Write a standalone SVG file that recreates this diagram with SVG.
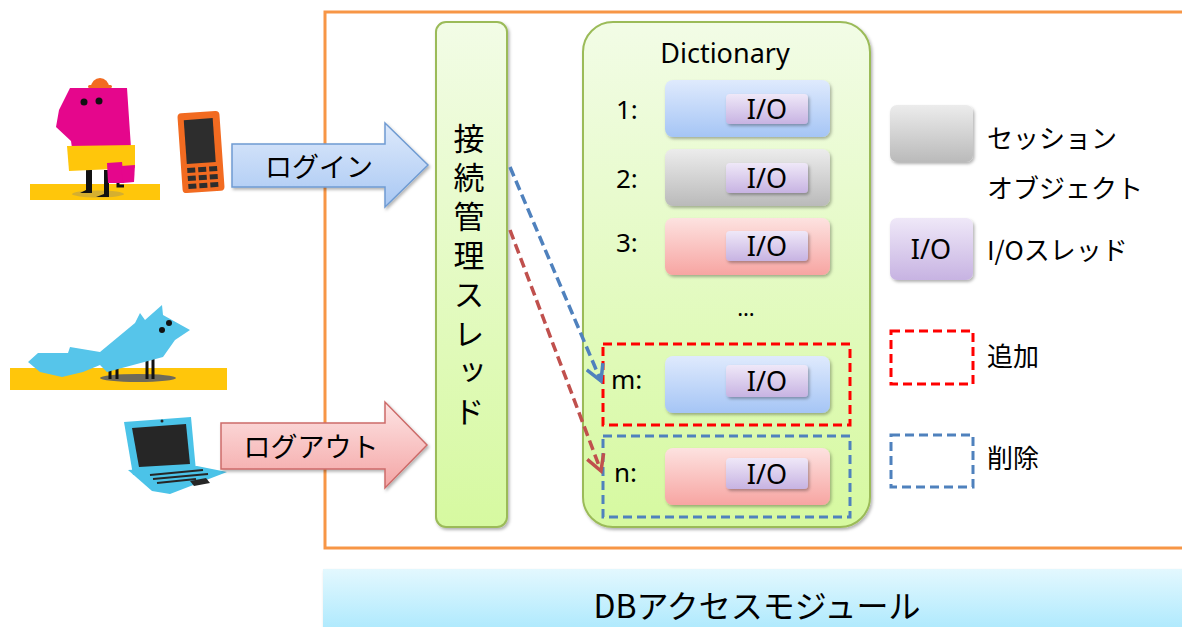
<svg xmlns="http://www.w3.org/2000/svg" width="1182" height="627" viewBox="0 0 1182 627">
  <defs>
    <linearGradient id="gBlue" x1="0" y1="0" x2="0" y2="1">
      <stop offset="0" stop-color="#dfeafd"/>
      <stop offset="1" stop-color="#a5c5f5"/>
    </linearGradient>
    <linearGradient id="gGray" x1="0" y1="0" x2="0" y2="1">
      <stop offset="0" stop-color="#ececec"/>
      <stop offset="1" stop-color="#bababa"/>
    </linearGradient>
    <linearGradient id="gPink" x1="0" y1="0" x2="0" y2="1">
      <stop offset="0" stop-color="#fde2e0"/>
      <stop offset="1" stop-color="#f7a5a2"/>
    </linearGradient>
    <linearGradient id="gIO" x1="0" y1="0" x2="0" y2="1">
      <stop offset="0" stop-color="#efe8f8"/>
      <stop offset="1" stop-color="#c7b3e2"/>
    </linearGradient>
    <linearGradient id="gGreen" x1="0" y1="0" x2="0" y2="1">
      <stop offset="0" stop-color="#f2fce6"/>
      <stop offset="1" stop-color="#d6f9a0"/>
    </linearGradient>
    <linearGradient id="gDB" x1="0" y1="0" x2="0" y2="1">
      <stop offset="0" stop-color="#e3f8fe"/>
      <stop offset="1" stop-color="#a6e7fd"/>
    </linearGradient>
    <linearGradient id="gLogin" x1="0" y1="0" x2="0" y2="1">
      <stop offset="0" stop-color="#dde9fb"/>
      <stop offset="1" stop-color="#a9c8f3"/>
    </linearGradient>
    <linearGradient id="gLogout" x1="0" y1="0" x2="0" y2="1">
      <stop offset="0" stop-color="#fde4e4"/>
      <stop offset="1" stop-color="#f4a5a5"/>
    </linearGradient>
    <filter id="shadow" x="-10%" y="-10%" width="125%" height="130%">
      <feDropShadow dx="1.5" dy="2" stdDeviation="1.5" flood-color="#000" flood-opacity="0.3"/>
    </filter>
    <marker id="headBlue" viewBox="0 0 12 12" refX="10" refY="6" markerWidth="6" markerHeight="6" orient="auto" markerUnits="strokeWidth">
      <path d="M1,1 L10,6 L1,11" fill="none" stroke="#4f81bd" stroke-width="2" stroke-linejoin="miter"/>
    </marker>
    <marker id="headRed" viewBox="0 0 12 12" refX="10" refY="6" markerWidth="6" markerHeight="6" orient="auto" markerUnits="strokeWidth">
      <path d="M1,1 L10,6 L1,11" fill="none" stroke="#c0504d" stroke-width="2" stroke-linejoin="miter"/>
    </marker>
    <style>
      .jp { font-family: "Noto Sans CJK JP", "Noto Sans", sans-serif; fill: #000; }
      .lat { font-family: "Noto Sans", "Noto Sans CJK JP", sans-serif; fill: #000; }
      .row { stroke: none; filter: url(#shadow); }
      .io { fill: url(#gIO); filter: url(#shadow); }
      .ioText { font-family: "Noto Sans", "Noto Sans CJK JP", sans-serif; font-size: 27px; text-anchor: middle; fill: #000; }
      .idx { font-family: "Noto Sans", "Noto Sans CJK JP", sans-serif; font-size: 26px; fill: #000; }
      .addBox { fill: none; stroke: #ff0000; stroke-width: 3; stroke-dasharray: 9 5; }
      .delBox { fill: none; stroke: #4f81bd; stroke-width: 3; stroke-dasharray: 9 5; }
      .legend { font-family: "Noto Sans CJK JP", "Noto Sans", sans-serif; font-size: 26px; fill: #000; }
      .vert { font-family: "Noto Sans CJK JP", sans-serif; font-size: 31px; fill: #000;
              writing-mode: vertical-rl; text-orientation: upright; letter-spacing: 8px; }
    </style>
  </defs>

  <rect width="1182" height="627" fill="#ffffff"/>

  <!-- system boundary -->
  <g id="system-frame">
    <rect x="325" y="12" width="900" height="536" fill="none" stroke="#f79646" stroke-width="3"/>
  </g>

  <!-- DB access module bar -->
  <g id="db-module">
    <rect x="323" y="569" width="880" height="70" fill="url(#gDB)" filter="url(#shadow)"/>
    <text class="jp" x="757" y="618" font-size="32" text-anchor="middle">DBアクセスモジュール</text>
  </g>

  <!-- mobile user -->
  <g id="user-mobile">
    <rect x="30" y="184" width="130" height="16" fill="#ffc60b"/>
    <ellipse cx="98" cy="194" rx="26" ry="3.5" fill="#b9a04a" opacity="0.6"/>
    <path d="M86,170 L86,190 L80,193 L92,193 L92,170 Z" fill="#111"/>
    <path d="M104,170 L104,194 L96,197 L109,197 L109,170 Z" fill="#111"/>
    <path d="M118,178 L118,186 L124,186" fill="none" stroke="#111" stroke-width="3"/>
    <polygon points="70,88 127,88 131,148 72,148 71,141 56,127 59,110" fill="#e5068c"/>
    <path d="M91,87 A9,9 0 0 1 109,87 Z" fill="#f26b21"/>
    <rect x="88" y="85" width="24" height="3" rx="1.5" fill="#f26b21"/>
    <circle cx="84" cy="102" r="3.5" fill="#111"/>
    <circle cx="99" cy="101" r="3.5" fill="#111"/>
    <polygon points="67,146 135,145 135,168 69,171" fill="#ffc60b"/>
    <polygon points="107,163 122,162 124,183 108,183" fill="#e5068c"/>
    <polygon points="121,166 135,165 134,182 123,183" fill="#e5068c"/>
    <!-- phone -->
    <g transform="rotate(-4 201 152)">
      <rect x="180" y="112" width="42" height="80" rx="4" fill="#f26b21"/>
      <rect x="186" y="119" width="29" height="44" fill="#2d2d2d"/>
      <g fill="#2d2d2d">
        <rect x="186" y="167" width="8" height="5"/><rect x="197" y="167" width="8" height="5"/><rect x="208" y="167" width="8" height="5"/>
        <rect x="186" y="175" width="8" height="5"/><rect x="197" y="175" width="8" height="5"/><rect x="208" y="175" width="8" height="5"/>
        <rect x="186" y="183" width="8" height="5"/><rect x="197" y="183" width="8" height="5"/><rect x="208" y="183" width="8" height="5"/>
      </g>
    </g>
  </g>

  <!-- fox -->
  <g id="user-fox">
    <rect x="10" y="368" width="217" height="22" fill="#ffc60b"/>
    <ellipse cx="138" cy="378" rx="38" ry="4" fill="#6f6a5a"/>
    <g stroke="#111" stroke-width="3">
      <line x1="110" y1="360" x2="110" y2="379"/>
      <line x1="117" y1="360" x2="117" y2="379"/>
      <line x1="147" y1="355" x2="147" y2="379"/>
      <line x1="153" y1="355" x2="153" y2="379"/>
    </g>
    <polygon points="28,362 38,353 68,353 70,347 100,352 135,323 140,313 145,320 162,305 163,315 190,330 175,340 163,357 107,372 100,365 83,372 62,377 40,372" fill="#56c5ea"/>
    <circle cx="162" cy="330" r="3" fill="#111"/>
    <circle cx="169" cy="323" r="3" fill="#111"/>
  </g>

  <!-- laptop -->
  <g id="user-laptop">
    <polygon points="124,422 191,417 196,471 133,475" fill="#4bc3e8"/>
    <polygon points="132,428 186,424 190,464 139,467" fill="#262626"/>
    <circle cx="162" cy="421" r="1.5" fill="#262626"/>
    <polygon points="128,470 197,466 227,472 170,494 152,491" fill="#4bc3e8"/>
    <g stroke="#262626" stroke-width="2">
      <line x1="150" y1="475" x2="203" y2="470"/>
      <line x1="153" y1="479" x2="208" y2="474"/>
      <line x1="157" y1="483" x2="196" y2="479"/>
    </g>
    <polygon points="190,481 206,478 210,483 194,486" fill="#262626"/>
  </g>

  <!-- login arrow -->
  <g id="login-arrow">
    <polygon points="232,144 385,144 385,123 428,165 385,207 385,187 232,187" fill="url(#gLogin)" stroke="#6f9bd2" stroke-width="1.5" filter="url(#shadow)"/>
    <text class="jp" x="319" y="177" font-size="27" text-anchor="middle">ログイン</text>
  </g>

  <!-- logout arrow -->
  <g id="logout-arrow">
    <polygon points="221,423 385,423 385,402 427,445 385,488 385,469 221,469" fill="url(#gLogout)" stroke="#cd6b69" stroke-width="1.5" filter="url(#shadow)"/>
    <text class="jp" x="311" y="457" font-size="27" text-anchor="middle">ログアウト</text>
  </g>

  <!-- connection manager thread: vertical label -->
  <g id="connection-manager">
    <rect x="436" y="22" width="71" height="505" rx="10" fill="url(#gGreen)" stroke="#9bbb59" stroke-width="2" filter="url(#shadow)"/>
    <text class="vert" x="469" y="123">接続管理スレッド</text>
  </g>

  <!-- session dictionary -->
  <g id="dictionary">
    <rect x="583" y="22" width="287" height="505" rx="30" fill="url(#gGreen)" stroke="#9bbb59" stroke-width="2" filter="url(#shadow)"/>
    <text class="lat" x="725" y="63" font-size="27" text-anchor="middle">Dictionary</text>
    <text class="lat" x="746" y="316" font-size="22" text-anchor="middle">…</text>
  </g>

  <g id="entry-1">
    <text class="idx" x="616" y="119">1:</text>
    <rect class="row" x="665" y="80" width="165" height="57" rx="8" fill="url(#gBlue)"/>
    <rect class="io" x="726" y="94" width="82" height="30" rx="4"/>
    <text class="ioText" x="767" y="119">I/O</text>
  </g>

  <g id="entry-2">
    <text class="idx" x="616" y="188">2:</text>
    <rect class="row" x="665" y="149" width="165" height="57" rx="8" fill="url(#gGray)"/>
    <rect class="io" x="726" y="163" width="82" height="30" rx="4"/>
    <text class="ioText" x="767" y="188">I/O</text>
  </g>

  <g id="entry-3">
    <text class="idx" x="616" y="252">3:</text>
    <rect class="row" x="665" y="218" width="165" height="57" rx="8" fill="url(#gPink)"/>
    <rect class="io" x="726" y="231" width="82" height="30" rx="4"/>
    <text class="ioText" x="767" y="256">I/O</text>
  </g>

  <g id="entry-m">
    <rect class="row" x="665" y="356" width="165" height="57" rx="8" fill="url(#gBlue)"/>
    <rect class="io" x="726" y="365" width="82" height="32" rx="4"/>
    <text class="ioText" x="767" y="391">I/O</text>
    <text class="idx" x="611" y="389">m:</text>
    <rect class="addBox" x="603" y="344" width="247" height="81"/>
  </g>

  <g id="entry-n">
    <rect class="row" x="665" y="448" width="165" height="57" rx="8" fill="url(#gPink)"/>
    <rect class="io" x="726" y="458" width="82" height="31" rx="4"/>
    <text class="ioText" x="767" y="484">I/O</text>
    <text class="idx" x="614" y="482">n:</text>
    <rect class="delBox" x="603" y="436" width="247" height="81"/>
  </g>

  <!-- connectors -->
  <g id="connectors" fill="none" stroke-width="3.5" stroke-dasharray="10 5">
    <line x1="510" y1="167" x2="601" y2="381" stroke="#4f81bd" marker-end="url(#headBlue)"/>
    <line x1="510" y1="230" x2="601" y2="471" stroke="#c0504d" marker-end="url(#headRed)"/>
  </g>

  <!-- legend -->
  <g id="legend-session">
    <rect class="row" x="890" y="105" width="83" height="57" rx="7" fill="url(#gGray)"/>
    <text class="legend" x="987" y="148">セッション</text>
    <text class="legend" x="987" y="198">オブジェクト</text>
  </g>
  <g id="legend-io">
    <rect class="io" x="890" y="218" width="83" height="62" rx="7"/>
    <text class="ioText" x="931" y="259">I/O</text>
    <text class="legend" x="987" y="260">I/Oスレッド</text>
  </g>
  <g id="legend-add">
    <rect class="addBox" x="891" y="331" width="82" height="53"/>
    <text class="legend" x="987" y="366">追加</text>
  </g>
  <g id="legend-delete">
    <rect class="delBox" x="891" y="435" width="82" height="52"/>
    <text class="legend" x="987" y="468">削除</text>
  </g>
</svg>
